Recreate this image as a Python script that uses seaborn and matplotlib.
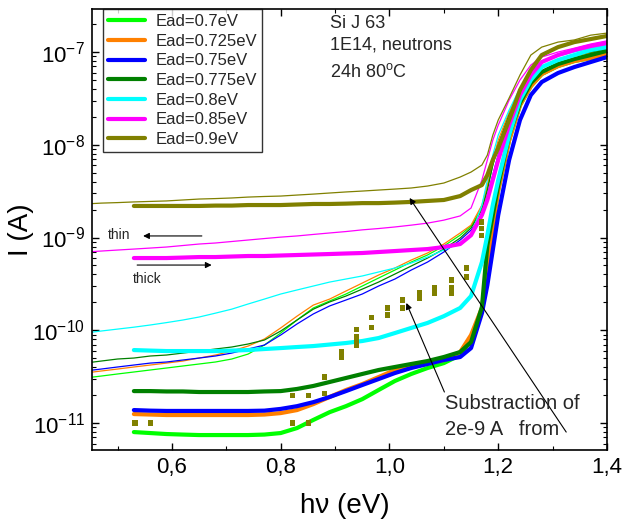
import numpy as np
import matplotlib
matplotlib.use("Agg")
import matplotlib.pyplot as plt
import seaborn as sns
from matplotlib.lines import Line2D
from matplotlib.ticker import (LogLocator, LogFormatterSciNotation, MultipleLocator,
                               FixedLocator, FixedFormatter, NullFormatter)

# ---------------- data ----------------
HV_THIN = [0.44, 0.47, 0.50, 0.53, 0.56, 0.59, 0.62, 0.65, 0.68, 0.71, 0.74, 0.77,
           0.80, 0.83, 0.86, 0.89, 0.92, 0.95, 0.98, 1.01, 1.04, 1.07, 1.10, 1.13,
           1.15, 1.17, 1.18, 1.19, 1.20, 1.22, 1.24, 1.26, 1.28, 1.31, 1.34, 1.37, 1.40]
HV_THICK = [0.53, 0.56, 0.59, 0.62, 0.65, 0.68, 0.71, 0.74, 0.77,
            0.80, 0.83, 0.86, 0.89, 0.92, 0.95, 0.98, 1.01, 1.04, 1.07, 1.10, 1.13,
            1.15, 1.17, 1.18, 1.19, 1.20, 1.22, 1.24, 1.26, 1.28, 1.31, 1.34, 1.37, 1.40]

LABELS = ["Ead=0.7eV", "Ead=0.725eV", "Ead=0.75eV", "Ead=0.775eV",
          "Ead=0.8eV", "Ead=0.85eV", "Ead=0.9eV"]
COLORS = ["#00FF00", "#FF8000", "#0000FF", "#008000", "#00FFFF", "#FF00FF", "#808000"]

Y_TICKS = [1e-11, 1e-10, 1e-9, 1e-8, 1e-7]
X_TICKS = [0.6, 0.8, 1.0, 1.2, 1.4]
X_TICK_LABELS = ["0,6", "0,8", "1,0", "1,2", "1,4"]

# thin lines
THIN_070 = [3.06e-11, 3.21e-11, 3.38e-11, 3.55e-11, 3.73e-11, 3.92e-11, 4.12e-11, 4.33e-11,
            4.55e-11, 4.90e-11, 5.54e-11, 6.93e-11, 9.34e-11, 1.29e-10, 1.74e-10, 2.07e-10,
            2.46e-10, 3.00e-10, 3.66e-10, 4.46e-10, 5.44e-10, 6.48e-10, 8.10e-10, 1.06e-9,
            1.33e-9, 2.08e-9, 3.42e-9, 6.05e-9, 9.94e-9, 2.09e-8, 3.70e-8, 5.38e-8, 6.72e-8,
            8.20e-8, 9.06e-8, 9.76e-8, 1.05e-7]
THIN_0725 = [3.46e-11, 3.64e-11, 3.82e-11, 4.02e-11, 4.22e-11, 4.43e-11, 4.66e-11, 5.02e-11,
             5.41e-11, 5.97e-11, 6.76e-11, 8.05e-11, 1.06e-10, 1.42e-10, 1.87e-10, 2.17e-10,
             2.65e-10, 3.23e-10, 3.94e-10, 4.69e-10, 5.72e-10, 6.81e-10, 8.51e-10, 1.12e-9,
             1.36e-9, 2.24e-9, 3.68e-9, 6.85e-9, 1.12e-8, 2.25e-8, 3.89e-8, 5.51e-8, 6.89e-8,
             8.20e-8, 9.06e-8, 9.76e-8, 1.03e-7]
THIN_075 = [3.64e-11, 3.82e-11, 4.02e-11, 4.22e-11, 4.43e-11, 4.55e-11, 4.78e-11, 5.02e-11,
            5.28e-11, 5.68e-11, 6.28e-11, 6.93e-11, 8.89e-11, 1.17e-10, 1.50e-10, 1.83e-10,
            2.12e-10, 2.46e-10, 3.00e-10, 3.57e-10, 4.46e-10, 5.44e-10, 6.98e-10, 9.40e-10,
            1.20e-9, 1.75e-9, 2.87e-9, 4.72e-9, 7.75e-9, 1.63e-8, 3.04e-8, 4.63e-8, 6.09e-8,
            7.42e-8, 8.20e-8, 8.83e-8, 9.28e-8]
THIN_0775 = [4.43e-11, 4.66e-11, 4.90e-11, 5.02e-11, 5.28e-11, 5.41e-11, 5.68e-11, 5.97e-11,
             6.28e-11, 6.60e-11, 7.11e-11, 7.85e-11, 9.81e-11, 1.29e-10, 1.69e-10, 2.02e-10,
             2.34e-10, 2.78e-10, 3.31e-10, 4.04e-10, 4.93e-10, 6.01e-10, 7.51e-10, 9.87e-10,
             1.27e-9, 1.98e-9, 3.25e-9, 6.05e-9, 9.94e-9, 2.09e-8, 3.61e-8, 5.25e-8, 6.72e-8,
             8.20e-8, 9.28e-8, 1.00e-7, 1.08e-7]
THIN_080 = [9.33e-11, 9.82e-11, 1.03e-10, 1.08e-10, 1.14e-10, 1.21e-10, 1.29e-10, 1.39e-10,
            1.53e-10, 1.69e-10, 1.92e-10, 2.17e-10, 2.46e-10, 2.72e-10, 3.00e-10, 3.31e-10,
            3.57e-10, 3.85e-10, 4.25e-10, 4.69e-10, 5.31e-10, 6.16e-10, 7.33e-10, 8.73e-10,
            1.06e-9, 2.24e-9, 4.17e-9, 7.75e-9, 1.27e-8, 2.37e-8, 4.09e-8, 6.08e-8, 7.80e-8,
            9.06e-8, 1.00e-7, 1.10e-7, 1.19e-7]
THIN_085 = [6.98e-10, 7.15e-10, 7.33e-10, 7.51e-10, 7.70e-10, 7.90e-10, 8.20e-10, 8.51e-10,
            8.73e-10, 9.06e-10, 9.40e-10, 9.75e-10, 1.01e-9, 1.04e-9, 1.08e-9, 1.12e-9,
            1.16e-9, 1.21e-9, 1.25e-9, 1.30e-9, 1.36e-9, 1.43e-9, 1.54e-9, 1.71e-9,
            2.08e-9, 4.17e-9, 6.86e-9, 1.12e-8, 1.63e-8, 3.03e-8, 4.99e-8, 7.24e-8, 8.83e-8,
            1.00e-7, 1.10e-7, 1.22e-7, 1.32e-7]
THIN_090 = [2.30e-9, 2.35e-9, 2.38e-9, 2.42e-9, 2.45e-9, 2.48e-9, 2.54e-9, 2.60e-9,
            2.63e-9, 2.67e-9, 2.73e-9, 2.77e-9, 2.80e-9, 2.87e-9, 2.94e-9, 3.02e-9,
            3.10e-9, 3.17e-9, 3.25e-9, 3.33e-9, 3.42e-9, 3.59e-9, 3.87e-9, 4.49e-9,
            5.08e-9, 6.05e-9, 7.75e-9, 1.27e-8, 1.85e-8, 3.19e-8, 5.65e-8, 9.28e-8, 1.13e-7,
            1.28e-7, 1.35e-7, 1.52e-7, 1.60e-7]

# thick lines
THICK_070 = [7.99e-12, 7.80e-12, 7.61e-12, 7.51e-12, 7.42e-12, 7.42e-12, 7.42e-12, 7.42e-12,
             7.51e-12, 7.80e-12, 8.83e-12, 1.08e-11, 1.31e-11, 1.52e-11, 1.81e-11, 2.27e-11,
             2.84e-11, 3.38e-11, 3.92e-11, 4.43e-11, 5.41e-11, 7.85e-11, 1.65e-10, 4.25e-10,
             1.36e-9, 3.25e-9, 1.12e-8, 2.68e-8, 4.30e-8, 5.79e-8, 7.07e-8, 8.00e-8, 8.62e-8,
             9.52e-8]
THICK_0725 = [1.25e-11, 1.235e-11, 1.22e-11, 1.22e-11, 1.22e-11, 1.22e-11, 1.22e-11, 1.22e-11,
              1.235e-11, 1.28e-11, 1.38e-11, 1.60e-11, 1.91e-11, 2.27e-11, 2.63e-11, 3.13e-11,
              3.73e-11, 4.12e-11, 4.43e-11, 4.78e-11, 5.83e-11, 8.89e-11, 1.74e-10, 4.46e-10,
              1.36e-9, 3.25e-9, 1.12e-8, 2.68e-8, 4.30e-8, 5.79e-8, 7.07e-8, 8.00e-8, 8.62e-8,
              9.52e-8]
THICK_075 = [1.38e-11, 1.36e-11, 1.35e-11, 1.35e-11, 1.35e-11, 1.35e-11, 1.35e-11, 1.35e-11,
             1.36e-11, 1.42e-11, 1.52e-11, 1.68e-11, 1.91e-11, 2.21e-11, 2.57e-11, 2.98e-11,
             3.46e-11, 3.92e-11, 4.33e-11, 4.78e-11, 5.15e-11, 6.43e-11, 1.53e-10, 3.07e-10,
             7.33e-10, 1.75e-9, 6.85e-9, 1.85e-8, 3.44e-8, 4.75e-8, 5.94e-8, 6.89e-8, 7.80e-8,
             8.83e-8]
THICK_0775 = [2.21e-11, 2.21e-11, 2.19e-11, 2.19e-11, 2.16e-11, 2.16e-11, 2.16e-11, 2.16e-11,
              2.19e-11, 2.21e-11, 2.33e-11, 2.51e-11, 2.77e-11, 3.06e-11, 3.38e-11, 3.73e-11,
              4.02e-11, 4.33e-11, 4.66e-11, 5.15e-11, 5.83e-11, 7.47e-11, 1.78e-10, 8.30e-10,
              1.75e-9, 3.68e-9, 1.27e-8, 2.82e-8, 4.63e-8, 6.09e-8, 7.42e-8, 8.40e-8, 9.28e-8,
              1.03e-7]
THICK_080 = [6.12e-11, 6.04e-11, 5.97e-11, 5.97e-11, 5.97e-11, 5.97e-11, 6.04e-11, 6.12e-11,
             6.28e-11, 6.43e-11, 6.60e-11, 6.76e-11, 7.02e-11, 7.29e-11, 7.66e-11, 8.25e-11,
             9.34e-11, 1.06e-10, 1.20e-10, 1.42e-10, 1.74e-10, 2.34e-10, 5.44e-10, 1.06e-9,
             2.24e-9, 4.17e-9, 1.27e-8, 3.04e-8, 4.99e-8, 6.89e-8, 8.20e-8, 9.28e-8, 1.05e-7,
             1.13e-7]
THICK_085 = [6.01e-10, 6.01e-10, 6.01e-10, 6.08e-10, 6.16e-10, 6.16e-10, 6.24e-10, 6.32e-10,
             6.32e-10, 6.40e-10, 6.48e-10, 6.56e-10, 6.64e-10, 6.73e-10, 6.81e-10, 6.98e-10,
             7.15e-10, 7.33e-10, 7.51e-10, 7.90e-10, 8.51e-10, 1.06e-9, 1.75e-9, 2.54e-9,
             4.17e-9, 6.86e-9, 1.63e-8, 3.44e-8, 5.65e-8, 7.80e-8, 9.28e-8, 1.05e-7, 1.16e-7,
             1.25e-7]
THICK_090 = [2.19e-9, 2.19e-9, 2.19e-9, 2.19e-9, 2.19e-9, 2.21e-9, 2.21e-9, 2.24e-9,
             2.24e-9, 2.24e-9, 2.27e-9, 2.30e-9, 2.30e-9, 2.32e-9, 2.35e-9, 2.35e-9,
             2.38e-9, 2.42e-9, 2.48e-9, 2.54e-9, 2.80e-9, 3.25e-9, 3.68e-9, 4.72e-9,
             6.86e-9, 9.23e-9, 1.85e-8, 3.89e-8, 6.40e-8, 9.28e-8, 1.13e-7, 1.28e-7, 1.38e-7,
             1.49e-7]

# Ead=0.9eV thick curve after subtraction of 2e-9 A (olive squares)
SUB_HV = [0.532, 0.560, 0.822, 0.822, 0.851, 0.851, 0.881, 0.881, 0.912, 0.912, 0.912,
          0.939, 0.939, 0.939, 0.939, 0.967, 0.967, 0.996, 0.996, 1.024, 1.024,
          1.055, 1.055, 1.083, 1.083, 1.114, 1.114, 1.114, 1.141, 1.141, 1.169, 1.169, 1.169]
SUB_I = [1.0e-11, 1.0e-11, 1.0e-11, 2.0e-11, 1.0e-11, 2.0e-11, 2.10e-11, 3.13e-11, 5.15e-11,
         5.5e-11, 5.83e-11, 6.93e-11, 7.6e-11, 8.45e-11, 1.01e-10, 1.08e-10, 1.36e-10,
         1.46e-10, 1.74e-10, 1.74e-10, 2.12e-10, 2.23e-10, 2.52e-10, 2.52e-10, 2.92e-10,
         2.52e-10, 2.92e-10, 3.48e-10, 3.75e-10, 4.69e-10, 1.06e-9, 1.25e-9, 1.47e-9]

THIN = [THIN_070, THIN_0725, THIN_075, THIN_0775, THIN_080, THIN_085, THIN_090]
THICK = [THICK_070, THICK_0725, THICK_075, THICK_0775, THICK_080, THICK_085, THICK_090]

# ---------------- style ----------------
sns.set_theme(style="ticks")
plt.rcParams["font.family"] = ["Liberation Sans", "DejaVu Sans"]
plt.rcParams["mathtext.default"] = "regular"
plt.rcParams["axes.unicode_minus"] = False
plt.rcParams["axes.linewidth"] = 1.2

fig = plt.figure(figsize=(6.23, 5.19), dpi=100)
ax = fig.add_axes([92 / 623, 1 - 450 / 519, 515 / 623, 441 / 519])

for col, ys in zip(COLORS, THIN):
    sns.lineplot(x=HV_THIN, y=ys, color=col, lw=0.9, ax=ax, legend=False,
                 estimator=None, sort=False)
for col, ys in zip(COLORS, THICK):
    sns.lineplot(x=HV_THICK, y=ys, color=col, lw=3.0, ax=ax, legend=False,
                 estimator=None, sort=False)
sns.scatterplot(x=SUB_HV, y=SUB_I, marker="s", s=14, color="#808000",
                edgecolor="none", ax=ax, legend=False, zorder=3)

ax.set_yscale("log")
ax.set_xlim(0.453, 1.40)
ax.set_ylim(5.12e-12, 2.91e-7)

ax.xaxis.set_major_locator(FixedLocator(X_TICKS))
ax.xaxis.set_major_formatter(FixedFormatter(X_TICK_LABELS))
ax.xaxis.set_minor_locator(MultipleLocator(0.1))
ax.yaxis.set_major_locator(FixedLocator(Y_TICKS))
ax.yaxis.set_major_formatter(LogFormatterSciNotation())
ax.yaxis.set_minor_locator(LogLocator(base=10, subs=np.arange(2, 10) * 1.0, numticks=20))
ax.yaxis.set_minor_formatter(NullFormatter())

ax.tick_params(which="both", direction="in", top=True, right=True, colors="black")
ax.tick_params(which="major", length=5, width=1.0, labelsize=16, pad=5)
ax.tick_params(which="minor", length=2.8, width=0.8)
for s in ax.spines.values():
    s.set_color("black")
    s.set_linewidth(1.2)

ax.set_xlabel("hν (eV)", fontsize=20, color="black")
ax.set_ylabel("I (A)", fontsize=20, color="black")
ax.xaxis.set_label_coords(0.49, -0.098)
ax.yaxis.set_label_coords(-0.112, 0.5)

handles = [Line2D([0], [0], color=c, lw=3.0) for c in COLORS]
leg = ax.legend(handles, LABELS, loc="upper left", bbox_to_anchor=(0.0214, 1.0),
                borderaxespad=0, fontsize=12, frameon=True, fancybox=False,
                edgecolor="black", handlelength=2.2, handletextpad=0.65,
                labelspacing=0.28, borderpad=0.3)
leg.get_frame().set_linewidth(1.0)

ax.text(0.462, 0.968, "Si J 63", transform=ax.transAxes, fontsize=13, va="center")
ax.text(0.462, 0.918, "1E14, neutrons", transform=ax.transAxes, fontsize=13, va="center")
ax.text(0.462, 0.857, "24h 80$^{o}$C", transform=ax.transAxes, fontsize=13, va="center")

arrow = dict(arrowstyle="-|>", lw=0.8, color="black", mutation_scale=9, shrinkA=0, shrinkB=0)
ax.annotate("", xy=(0.547, 1.04e-9), xytext=(0.655, 1.04e-9), arrowprops=arrow)
ax.text(0.4826, 1.06e-9, "thin", fontsize=10, va="center")
ax.annotate("", xy=(0.673, 5.05e-10), xytext=(0.536, 5.05e-10), arrowprops=arrow)
ax.text(0.528, 3.57e-10, "thick", fontsize=10, va="center")

ax.annotate("", xy=(1.031, 1.97e-10), xytext=(1.101, 2.16e-11), arrowprops=arrow)
ax.annotate("", xy=(1.037, 2.67e-9), xytext=(1.325, 7.99e-12), arrowprops=arrow)
ax.text(1.103, 1.64e-11, "Substraction of", fontsize=14.5, va="center")
ax.text(1.103, 8.61e-12, "2e-9 A   from", fontsize=14.5, va="center")

fig.savefig("out.png", dpi=100)
